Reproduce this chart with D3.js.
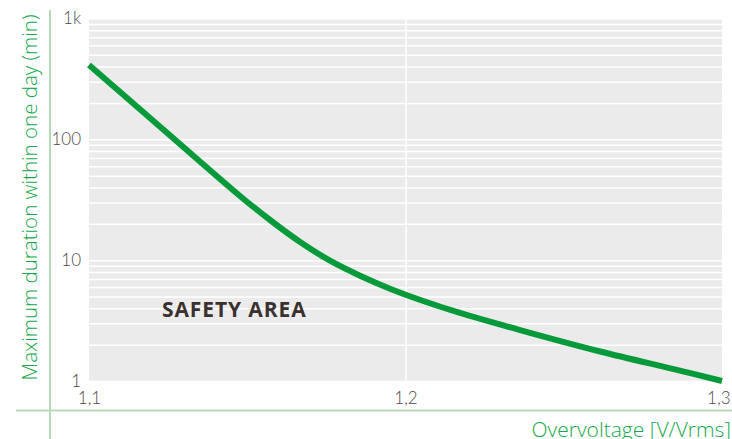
<!DOCTYPE html>
<html>
<head>
<meta charset="utf-8">
<script src="https://cdn.jsdelivr.net/npm/d3@7"></script>
<style>
  html, body { margin: 0; padding: 0; background: #fff; }
  svg { display: block; }
</style>
</head>
<body>
<svg id="chart" width="732" height="439"></svg>
<script>
// ---- data ----
const overvoltage = [1.100, 1.124, 1.1477, 1.1572, 1.1667, 1.1763, 1.1858, 1.1953, 1.2047,
                     1.2172, 1.2362, 1.2615, 1.2867, 1.300];
const durationMin = [413, 117.3, 34.0, 21.5, 14.15, 9.85, 7.40, 5.78, 4.68,
                     3.66, 2.64, 1.755, 1.22, 1.0];
const xTicks = [1.1, 1.2, 1.3];
const xTickLabels = ["1,1", "1,2", "1,3"];
const yTicks = [1, 10, 100, 1000];
const yTickLabels = ["1", "10", "100", "1k"];
const xTitle = "Overvoltage [V/Vrms]";
const yTitle = "Maximum duration within one day (min)";
const areaLabel = "SAFETY AREA";

// ---- layout ----
const svg = d3.select("#chart");
const pLeft = 89, pRight = 722, pTop = 18.5, pBottom = 381;
const x = d3.scaleLinear().domain([1.1, 1.3]).range([pLeft, pRight]);
const y = d3.scaleLog().domain([1, 1000]).range([pBottom, pTop]);

const green = "#079a3b";
const axisGreen = "#b4dbb6";
const tickColor = "#4d4a48";
const tickFont = "Lato, 'Open Sans', sans-serif";
const titleFont = "'Open Sans', Lato, sans-serif";

// background
svg.append("rect")
  .attr("x", pLeft).attr("y", pTop)
  .attr("width", pRight - pLeft).attr("height", pBottom - pTop)
  .attr("fill", "#ebebeb");

// horizontal gridlines (log minor ticks)
const gridY = [];
for (let d = 1; d < 1000; d *= 10) for (let k = 1; k <= 9; k++) gridY.push(d * k);
gridY.push(1000);
svg.append("g")
  .attr("transform", `translate(${pLeft},0)`)
  .call(d3.axisLeft(y).tickValues(gridY).tickSize(-(pRight - pLeft)).tickFormat(""))
  .call(g => g.select(".domain").remove())
  .call(g => g.selectAll("line").attr("stroke", "#fff").attr("stroke-width", 1.5));

// vertical gridlines
svg.append("g")
  .attr("transform", `translate(0,${pBottom})`)
  .call(d3.axisBottom(x).tickValues(xTicks.slice(1, -1)).tickSize(-(pBottom - pTop)).tickFormat(""))
  .call(g => g.select(".domain").remove())
  .call(g => g.selectAll("line").attr("stroke", "#fff").attr("stroke-width", 1.5));

// y tick labels
svg.append("g")
  .attr("transform", `translate(${pLeft},0)`)
  .call(d3.axisLeft(y).tickValues(yTicks).tickSize(0).tickPadding(8)
    .tickFormat((d, i) => yTickLabels[i]))
  .call(g => g.select(".domain").remove())
  .call(g => g.selectAll("text").attr("fill", tickColor)
    .style("font-family", tickFont).style("font-size", "17px").style("font-weight", 300));

// x tick labels
svg.append("g")
  .attr("transform", `translate(0,${pBottom})`)
  .call(d3.axisBottom(x).tickValues(xTicks).tickSize(0).tickPadding(11)
    .tickFormat((d, i) => xTickLabels[i]))
  .call(g => g.select(".domain").remove())
  .call(g => g.selectAll("text").attr("fill", tickColor)
    .style("font-family", tickFont).style("font-size", "17px").style("font-weight", 300))
  .call(g => g.selectAll(".tick").filter((d, i) => i === xTicks.length - 1)
    .select("text").attr("text-anchor", "end").attr("dx", 8));

// green frame lines
svg.append("line").attr("x1", 50).attr("x2", 50).attr("y1", 10).attr("y2", 439)
  .attr("stroke", axisGreen).attr("stroke-width", 2);
svg.append("line").attr("x1", 16).attr("x2", 732).attr("y1", 410.5).attr("y2", 410.5)
  .attr("stroke", axisGreen).attr("stroke-width", 2);

// curve
const line = d3.line()
  .x((d, i) => x(overvoltage[i]))
  .y(d => y(d))
  .curve(d3.curveCatmullRom.alpha(0.5));
svg.append("path")
  .datum(durationMin)
  .attr("d", line)
  .attr("fill", "none")
  .attr("stroke", green)
  .attr("stroke-width", 6);

// area label
svg.append("text")
  .attr("x", 162).attr("y", 316.5)
  .attr("fill", "#3a312e")
  .style("font-family", titleFont).style("font-size", "21px").style("font-weight", 700)
  .style("letter-spacing", "0.9px")
  .text(areaLabel);

// axis titles
svg.append("text")
  .attr("transform", `translate(37,${(10 + 385) / 2}) rotate(-90)`)
  .attr("text-anchor", "middle")
  .attr("fill", "#16a84b")
  .style("font-family", titleFont).style("font-size", "20.5px").style("font-weight", 300)
  .text(yTitle);
svg.append("text")
  .attr("x", 731).attr("y", 437)
  .attr("text-anchor", "end")
  .attr("fill", "#16a84b")
  .style("font-family", titleFont).style("font-size", "21px").style("font-weight", 300)
  .text(xTitle);
</script>
</body>
</html>
